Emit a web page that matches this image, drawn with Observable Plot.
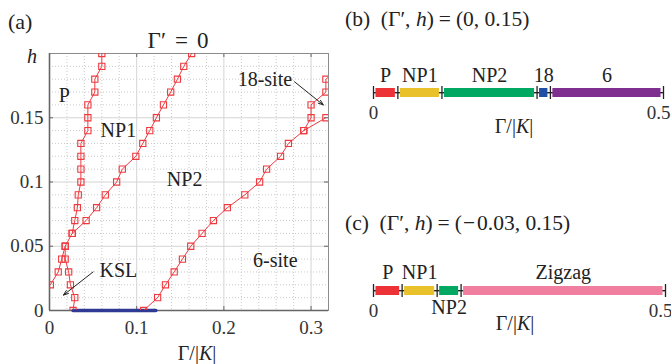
<!DOCTYPE html>
<html><head><meta charset="utf-8">
<script src="https://cdn.jsdelivr.net/npm/d3@7"></script>
<script src="https://cdn.jsdelivr.net/npm/@observablehq/plot@0.6"></script>
<style>
body{margin:0;background:#fff;}
#fig{position:relative;width:671px;height:364px;overflow:hidden;font-family:"Liberation Serif","Times New Roman","DejaVu Serif",serif;color:#222;background:#fff;}
.t{position:absolute;white-space:nowrap;font-size:20px;line-height:1;}
.c{transform:translateX(-50%);}
.p{position:absolute;}
svg text{font-family:"Liberation Serif","Times New Roman","DejaVu Serif",serif;}
</style></head><body><div id="fig"></div>
<script>
// ---------- panel (a) data: phase boundaries (Gamma/|K|, h) ----------
const pNp1Gamma = [0.027,0.029,0.024,0.022,0.018,0.018,0.026,0.029,0.032,0.033,0.036,0.036,0.036,0.036,0.044,0.044,0.044,0.052,0.052,0.060,0.060];
const pNp1H     = [0,0.01,0.02,0.03,0.04,0.05,0.06,0.07,0.08,0.09,0.10,0.11,0.12,0.13,0.14,0.15,0.16,0.17,0.18,0.19,0.20];
const kslLeftGamma = [0.001,0.010,0.014,0.018];
const kslLeftH     = [0.02,0.03,0.04,0.05];
const np1Np2Gamma = [0.026,0.042,0.054,0.064,0.077,0.0835,0.099,0.107,0.115,0.1226,0.1307,0.139,0.1467,0.154,0.163];
const np1Np2H     = [0.06,0.07,0.08,0.09,0.10,0.11,0.12,0.13,0.14,0.15,0.16,0.17,0.18,0.19,0.20];
const np2SixGamma = [0.108,0.124,0.133,0.143,0.1525,0.162,0.175,0.188,0.204,0.224,0.241,0.249,0.265,0.274,0.2916,0.300,0.300,0.317,0.317,0.335];
const np2SixH     = [0,0.01,0.02,0.03,0.04,0.05,0.06,0.07,0.08,0.09,0.10,0.11,0.12,0.13,0.14,0.15,0.16,0.17,0.18,0.19];
const sixEighteenGamma = [0.2916,0.317];
const sixEighteenH     = [0.14,0.15];
const kslGamma = [0.027,0.122];
const kslH     = [0,0];

const xTicks = [0,0.1,0.2,0.3];
const yTicks = [0,0.05,0.1,0.15];
const xMajor = [0.1,0.2,0.3];
const yMajor = [0.05,0.1,0.15];
const xMinor = [0.02,0.04,0.06,0.08,0.12,0.14,0.16,0.18,0.22,0.24,0.26,0.28];
const yMinor = [0.01,0.02,0.03,0.04,0.06,0.07,0.08,0.09,0.11,0.12,0.13,0.14,0.16,0.17,0.18,0.19];

const regionNames = ["P","NP1","NP2","6-site","KSL","18-site"];
const regionGamma = [0.017,0.079,0.155,0.259,0.079,0.247];
const regionH     = [0.167,0.140,0.102,0.039,0.031,0.180];

const arrowFromGamma = [0.050,0.281];
const arrowFromH     = [0.030,0.178];
const arrowToGamma   = [0.016,0.314];
const arrowToH       = [0.012,0.160];

// ---------- panels (b), (c) data ----------
const bBounds = [0,0.042,0.118,0.282,0.305,0.5];
const bPhases = ["P","NP1","NP2","18","6"];
const cBounds = [0,0.049,0.109,0.15,0.5];
const cPhases = ["P","NP1","NP2","Zigzag"];
const phaseDomain = ["P","NP1","NP2","18","6","Zigzag"];
const phaseRange  = ["#ec3237","#e9c12a","#00a862","#1f4fa5","#7f2f8f","#f07f9f"];

// ---------- build tables ----------
function curve(name, gs, hs){ return gs.map((g,i)=>({g, h: hs[i], curve: name})); }
const boundaryRows = [
  ...curve("pNp1", pNp1Gamma, pNp1H),
  ...curve("kslLeft", kslLeftGamma, kslLeftH),
  ...curve("np1Np2", np1Np2Gamma, np1Np2H),
  ...curve("np2Six", np2SixGamma, np2SixH),
  ...curve("sixEighteen", sixEighteenGamma, sixEighteenH)
];
const kslRows = curve("ksl", kslGamma, kslH);
const regions = regionNames.map((n,i)=>({n, g: regionGamma[i], h: regionH[i]}));
const arrows = arrowFromGamma.map((g,i)=>({x1:g, y1:arrowFromH[i], x2:arrowToGamma[i], y2:arrowToH[i]}));

const fig = document.getElementById("fig");
const serif = '"Liberation Serif","Times New Roman","DejaVu Serif",serif';
const font = {fontFamily: serif, fontSize:"19px", color:"#222", background:"transparent"};

const red = "#ee3a3f";
const W = 340, H = 364, mL = 49, mR = 12, mT = 53, mB = 54;
const fw = W - mL - mR, fh = H - mT - mB, tk = 4;
const plotA = Plot.plot({
  width: W, height: H,
  marginLeft: mL, marginRight: mR, marginTop: mT, marginBottom: mB,
  x: {domain:[0,0.32]},
  y: {domain:[0,0.2]},
  style: font,
  marks: [
    Plot.ruleX(xMinor, {stroke:"#bdbdbd", strokeDasharray:"1,2", strokeWidth:0.8}),
    Plot.ruleY(yMinor, {stroke:"#bdbdbd", strokeDasharray:"1,2", strokeWidth:0.8}),
    Plot.ruleX(xMajor, {stroke:"#d4d4d4", strokeWidth:1}),
    Plot.ruleY(yMajor, {stroke:"#d4d4d4", strokeWidth:1}),
    // inward ticks (MATLAB style)
    Plot.ruleX(xMajor, {stroke:"#666", insetTop: fh - tk}),
    Plot.ruleX(xMajor, {stroke:"#666", insetBottom: fh - tk}),
    Plot.ruleY(yMajor, {stroke:"#666", insetRight: fw - tk}),
    Plot.ruleY(yMajor, {stroke:"#666", insetLeft: fw - tk}),
    Plot.frame({stroke:"#8c8c8c", strokeWidth:1}),
    Plot.ruleX([0], {stroke:"#666", strokeWidth:1.6}),
    Plot.ruleY([0], {stroke:"#666", strokeWidth:1.6}),
    Plot.axisX({ticks:xTicks, tickSize:0, tickPadding:10, tickFormat:d=>String(d), label:null, fill:"#333", fontFamily:serif}),
    Plot.axisY({ticks:yTicks, tickSize:0, tickPadding:6, tickFormat:d=>String(d), label:null, fill:"#333", fontFamily:serif}),
    Plot.line(kslRows, {x:"g", y:"h", stroke:"#2e3a94", strokeWidth:3.5}),
    Plot.line(boundaryRows, {x:"g", y:"h", z:"curve", stroke:red, strokeWidth:1, clip:true}),
    Plot.dot(boundaryRows, {x:"g", y:"h", symbol:"square", r:3.5, stroke:red, fill:"none", strokeWidth:1.1, clip:true}),
    Plot.text(regions, {x:"g", y:"h", text:"n", fontSize:20, fill:"#222", fontFamily:serif}),
    Plot.arrow(arrows, {x1:"x1", y1:"y1", x2:"x2", y2:"y2", stroke:"#222", strokeWidth:1, headLength:8, headAngle:40})
  ]
});
plotA.classList.add("p"); plotA.style.left="0px"; plotA.style.top="0px";
fig.appendChild(plotA);

function barPlot(bounds, phases, top, marginTop, marginBottom, marginRight, aboveDy, belowSet){
  const segs = phases.map((p,i)=>({p, x1: bounds[i], x2: bounds[i+1], mid:(bounds[i]+bounds[i+1])/2}));
  const lo = bounds[0], hi = bounds[bounds.length-1];
  const plot = Plot.plot({
    width: 331, height: 62,
    marginLeft: 33, marginRight, marginTop, marginBottom,
    x: {domain:[lo, hi]},
    color: {domain: phaseDomain, range: phaseRange},
    style: font,
    marks: [
      Plot.barX([{x1:lo, x2:hi}], {x1:"x1", x2:"x2", fill:"#222", insetTop:4, insetBottom:3.6}),
      Plot.barX(segs, {x1:"x1", x2:"x2", fill:"p", insetLeft:2.5, insetRight:2.5}),
      Plot.ruleX(bounds, {stroke:"#222", strokeWidth:1.3, insetTop:-2, insetBottom:-2}),
      Plot.axisX({ticks:[lo], tickSize:0, tickPadding:8, tickFormat:d=>String(d), label:null, fill:"#333", fontFamily:serif}),
      Plot.axisX({ticks:[hi], tickSize:0, tickPadding:8, tickFormat:d=>String(d), label:null, fill:"#333", fontFamily:serif, dx:-5}),
      Plot.text(segs.filter(d=>!belowSet.includes(d.p)), {x:"mid", text:"p", frameAnchor:"top", lineAnchor:"bottom", dy:aboveDy, fontSize:20, fill:"#222", fontFamily:serif}),
      Plot.text(segs.filter(d=>belowSet.includes(d.p)), {x:"mid", text:"p", frameAnchor:"bottom", lineAnchor:"bottom", dy:18, fontSize:20, fill:"#222", fontFamily:serif})
    ]
  });
  plot.classList.add("p"); plot.style.left="340px"; plot.style.top=top+"px";
  fig.appendChild(plot);
}
barPlot(bBounds, bPhases, 60, 28, 25, 8, -7, []);
barPlot(cBounds, cPhases, 260, 26, 27, 6, -8, ["NP2"]);

// ---------- titles and math labels ----------
function label(html, left, top, size, center){
  const d = document.createElement("div");
  d.className = "t" + (center ? " c" : "");
  d.style.left = left+"px"; d.style.top = top+"px"; d.style.fontSize = size+"px";
  d.innerHTML = html;
  fig.appendChild(d);
}
const GK = 'Γ/|<i>K</i>|';
const eq = '<span style="margin:0 5px">=</span>';
label("(a)", 8, 10.5, 22, false);
label('Γ′<span style="margin:0 9px">=</span>0', 178, 28.5, 23, true);
label("<i>h</i>", 27, 45.5, 20, false);
label(GK, 197, 343, 20, true);
label('(b)&nbsp;&nbsp;(Γ′, <i>h</i>)' + eq + '(0, 0.15)', 345, 8.5, 21.5, false);
label(GK, 514, 116, 20, true);
label('(c)&nbsp;&nbsp;(Γ′, <i>h</i>)' + eq + '(<span style="margin:0 2px 0 1px">−</span>0.03, 0.15)', 345, 213, 21.5, false);
label(GK, 515, 313, 20, true);
</script>
</body></html>
